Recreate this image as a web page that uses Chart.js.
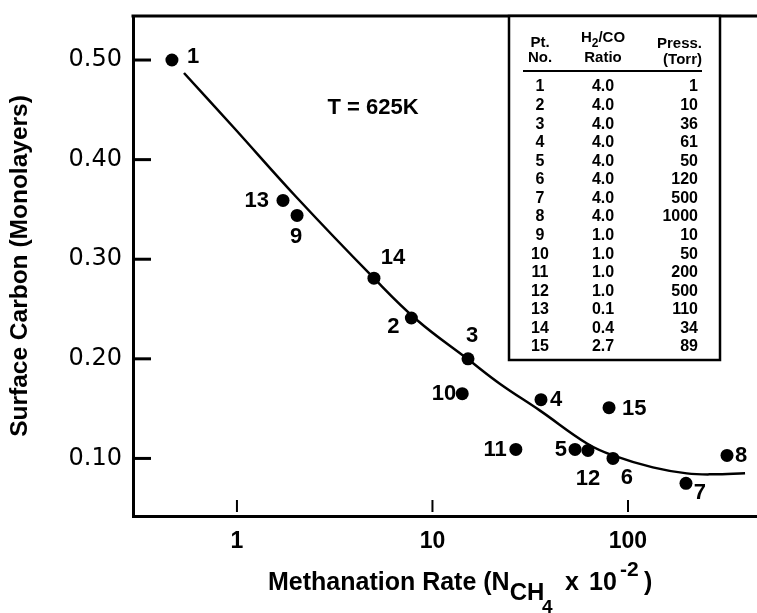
<!DOCTYPE html>
<html>
<head>
<meta charset="utf-8">
<script src="https://cdn.jsdelivr.net/npm/chart.js@4.4.1/dist/chart.umd.min.js"></script>
<style>
  html, body { margin: 0; padding: 0; background: #fff; }
  #wrap { width: 757px; height: 613px; }
</style>
</head>
<body>
<div id="wrap"><canvas id="chart" width="757" height="613"></canvas></div>
<script>
// ── Measured points: methanation rate vs. surface carbon at 625 K ────────────
const pointNos   = ['1', '2', '3', '4', '5', '6', '7', '8', '9', '10', '11', '12', '13', '14', '15'];
const methRate   = [0.465, 7.8, 15.2, 35.9, 53.6, 83.8, 198, 321, 2.03, 14.2, 26.7, 62.4, 1.72, 5.02, 80];
const surfCarbon = [0.500, 0.241, 0.200, 0.159, 0.109, 0.100, 0.075, 0.103, 0.344, 0.165, 0.109, 0.108, 0.359, 0.281, 0.151];

// Smooth trend line through the data
const fitRate   = [0.536, 0.955, 2.0, 4.96, 8.33, 15.2, 22.1, 35.5, 61.7, 83.8, 134, 200, 272, 397];
const fitCarbon = [0.487, 0.433, 0.363, 0.282, 0.239, 0.1995, 0.175, 0.148, 0.115, 0.103, 0.091, 0.085, 0.084, 0.085];

// Axis ticks
const xTickVals = [1, 10, 100];
const yTickVals = [0.10, 0.20, 0.30, 0.40, 0.50];

// Run conditions table
const tableRatio = ['4.0', '4.0', '4.0', '4.0', '4.0', '4.0', '4.0', '4.0', '1.0', '1.0', '1.0', '1.0', '0.1', '0.4', '2.7'];
const tablePress = ['1', '10', '36', '61', '50', '120', '500', '1000', '10', '50', '200', '500', '110', '34', '89'];

const FONT   = '"Liberation Sans", Arial, Helvetica, sans-serif';
const NARROW = '"Liberation Sans Narrow", "Arial Narrow", "Liberation Sans", sans-serif';
const WIDE   = '"DejaVu Sans", Verdana, sans-serif';

// label placement around each dot: [dx, dy, align]
const labelPlace = {
  '1':  [15, -3, 'left'],   '2':  [-18, 9, 'center'], '3':  [4, -23, 'center'],
  '4':  [9, 0, 'left'],     '5':  [-8, 0, 'right'],   '6':  [14, 20, 'center'],
  '7':  [14, 10, 'center'], '8':  [8, 0, 'left'],     '9':  [-1, 22, 'center'],
  '10': [-6, 0, 'right'],   '11': [-9, 0, 'right'],   '12': [0, 28, 'center'],
  '13': [-14, 0, 'right'],  '14': [19, -20, 'center'], '15': [13, 1, 'left'],
};

// ── Plugins ───────────────────────────────────────────────────────────────────
const frameAndTicks = {
  id: 'frameAndTicks',
  afterDatasetsDraw(chart) {
    const { ctx, chartArea: a, scales: { x, y } } = chart;
    ctx.save();
    ctx.strokeStyle = '#000';
    ctx.lineCap = 'butt';
    // top edge of the frame
    ctx.lineWidth = 3;
    ctx.beginPath();
    ctx.moveTo(a.left - 1.5, a.top);
    ctx.lineTo(a.right, a.top);
    ctx.stroke();
    // inward tick marks on y
    yTickVals.forEach(v => {
      const py = y.getPixelForValue(v);
      ctx.beginPath();
      ctx.moveTo(a.left, py);
      ctx.lineTo(a.left + 18, py);
      ctx.stroke();
    });
    // short tick marks on x
    ctx.lineWidth = 2;
    xTickVals.forEach(v => {
      const px = x.getPixelForValue(v);
      ctx.beginPath();
      ctx.moveTo(px, a.bottom - 4);
      ctx.lineTo(px, a.bottom - 16);
      ctx.stroke();
    });
    ctx.restore();
  },
};

const pointLabels = {
  id: 'pointLabels',
  afterDatasetsDraw(chart) {
    const { ctx } = chart;
    const meta = chart.getDatasetMeta(0);
    ctx.save();
    ctx.fillStyle = '#000';
    ctx.font = `bold 22px ${FONT}`;
    ctx.textBaseline = 'middle';
    meta.data.forEach((pt, i) => {
      const [dx, dy, align] = labelPlace[pointNos[i]];
      ctx.textAlign = align;
      ctx.fillText(pointNos[i], pt.x + dx, pt.y + dy);
    });
    // temperature note
    ctx.textAlign = 'center';
    ctx.font = `bold 22px ${FONT}`;
    ctx.fillText('T = 625K', 373, 108);
    ctx.restore();
  },
};

const runTable = {
  id: 'runTable',
  afterDraw(chart) {
    const { ctx, chartArea: a } = chart;
    const left = 509, right = 720, top = a.top, bottom = 360;
    ctx.save();
    ctx.fillStyle = '#fff';
    ctx.fillRect(left, top, right - left, bottom - top);
    ctx.strokeStyle = '#000';
    ctx.lineWidth = 2.5;
    ctx.strokeRect(left, top, right - left, bottom - top);

    ctx.fillStyle = '#000';
    ctx.textBaseline = 'middle';
    ctx.font = `bold 15px ${FONT}`;
    ctx.textAlign = 'center';
    ctx.fillText('Pt.', 540, 43);
    ctx.fillText('No.', 540, 58);
    ctx.fillText('Ratio', 603, 58);
    // H2/CO with subscript
    const hW = ctx.measureText('H').width;
    const cW = ctx.measureText('/CO').width;
    ctx.font = `bold 12px ${FONT}`;
    const sW = ctx.measureText('2').width;
    const hx = 603 - (hW + sW + cW) / 2;
    ctx.textAlign = 'left';
    ctx.font = `bold 15px ${FONT}`;
    ctx.fillText('H', hx, 38);
    ctx.font = `bold 12px ${FONT}`;
    ctx.fillText('2', hx + hW, 44);
    ctx.font = `bold 15px ${FONT}`;
    ctx.fillText('/CO', hx + hW + sW, 38);
    ctx.textAlign = 'right';
    ctx.fillText('Press.', 702, 44);
    ctx.fillText('(Torr)', 702, 60);

    ctx.lineWidth = 2;
    ctx.beginPath();
    ctx.moveTo(523, 71);
    ctx.lineTo(702, 71);
    ctx.stroke();

    ctx.font = `bold 16px ${FONT}`;
    const step = (347 - 87) / 14;
    pointNos.forEach((n, i) => {
      const ry = 87 + i * step;
      ctx.textAlign = 'center';
      ctx.fillText(n, 540, ry);
      ctx.fillText(tableRatio[i], 603, ry);
      ctx.textAlign = 'right';
      ctx.fillText(tablePress[i], 698, ry);
    });
    ctx.restore();
  },
};

// x-axis title with sub/superscripts (x = null means "follow previous piece")
const xTitle = {
  id: 'xTitle',
  afterDraw(chart) {
    const { ctx } = chart;
    const parts = [
      { t: 'Methanation Rate (N', size: 25, dy: 0, x: 268 },
      { t: 'CH', size: 24, dy: 10, x: null },
      { t: '4', size: 19, dy: 23, x: 542 },
      { t: 'x', size: 25, dy: 0, x: 565 },
      { t: '10', size: 25, dy: 0, x: 589 },
      { t: '-2', size: 21, dy: -14, x: 620 },
      { t: ')', size: 25, dy: 0, x: 644 },
    ];
    ctx.save();
    ctx.fillStyle = '#000';
    ctx.textBaseline = 'alphabetic';
    ctx.textAlign = 'left';
    let px = 268;
    const base = 590;
    parts.forEach(p => {
      ctx.font = `bold ${p.size}px ${FONT}`;
      if (p.x !== null) px = p.x;
      ctx.fillText(p.t, px, base + p.dy);
      px += ctx.measureText(p.t).width;
    });
    ctx.restore();
  },
};

// ── Chart ─────────────────────────────────────────────────────────────────────
new Chart(document.getElementById('chart'), {
  type: 'scatter',
  data: {
    datasets: [
      {
        label: 'Measured',
        data: methRate.map((r, i) => ({ x: r, y: surfCarbon[i] })),
        backgroundColor: '#000',
        borderColor: '#000',
        pointRadius: 6.5,
        borderWidth: 0,
        order: 0,
      },
      {
        label: 'Trend',
        data: fitRate.map((r, i) => ({ x: r, y: fitCarbon[i] })),
        showLine: true,
        borderColor: '#000',
        borderWidth: 2.5,
        pointRadius: 0,
        tension: 0.4,
        fill: false,
        order: 1,
      },
    ],
  },
  options: {
    responsive: false,
    animation: false,
    events: [],
    layout: { autoPadding: false, padding: { top: 16, right: 0, left: 0, bottom: 0 } },
    plugins: { legend: { display: false }, tooltip: { enabled: false } },
    scales: {
      x: {
        type: 'logarithmic',
        min: 0.294,
        max: 457,
        grid: { display: false, drawTicks: false },
        border: { display: true, color: '#000', width: 3 },
        afterBuildTicks: s => { s.ticks = xTickVals.map(v => ({ value: v })); },
        afterFit: s => { s.height = 97; s.paddingLeft = 0; s.paddingRight = 0; },
        ticks: {
          color: '#000',
          font: { family: NARROW, size: 23, weight: 'bold' },
          padding: 12,
          autoSkip: false,
          maxRotation: 0,
          callback: v => String(v),
        },
      },
      y: {
        min: 0.0422,
        max: 0.5442,
        grid: { display: false, drawTicks: false },
        border: { display: true, color: '#000', width: 3 },
        afterBuildTicks: s => { s.ticks = yTickVals.map(v => ({ value: v })); },
        afterFit: s => { s.width = 133; s.paddingTop = 0; s.paddingBottom = 0; },
        ticks: {
          color: '#000',
          font: { family: WIDE, size: 24 },
          padding: 11,
          callback: v => v.toFixed(2),
        },
        title: {
          display: true,
          text: 'Surface Carbon (Monolayers)',
          color: '#000',
          font: { family: FONT, size: 24.5, weight: 'bold' },
          padding: { top: 6, bottom: 0 },
        },
      },
    },
  },
  plugins: [frameAndTicks, pointLabels, runTable, xTitle],
});
</script>
</body>
</html>
